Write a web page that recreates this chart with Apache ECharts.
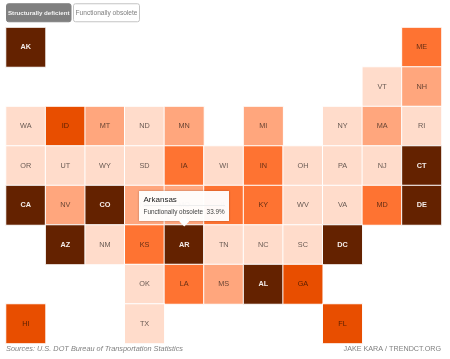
<!DOCTYPE html>
<html>
<head>
<meta charset="utf-8">
<script src="https://cdn.jsdelivr.net/npm/echarts@6/dist/echarts.min.js"></script>
<style>
  html, body { margin: 0; padding: 0; background: #fff; }
  #chart { width: 450px; height: 359px; }
</style>
</head>
<body>
<div id="chart"></div>
<script>
const FONT = '"Liberation Sans", Arial, sans-serif';

// tile map columns and rows
const columns = ['0', '1', '2', '3', '4', '5', '6', '7', '8', '9', '10'];
const rows = ['0', '1', '2', '3', '4', '5', '6', '7'];

// state, column, row
const tiles = [
  ['AK', 0, 0], ['ME', 10, 0],
  ['VT', 9, 1], ['NH', 10, 1],
  ['WA', 0, 2], ['ID', 1, 2], ['MT', 2, 2], ['ND', 3, 2], ['MN', 4, 2], ['MI', 6, 2], ['NY', 8, 2], ['MA', 9, 2], ['RI', 10, 2],
  ['OR', 0, 3], ['UT', 1, 3], ['WY', 2, 3], ['SD', 3, 3], ['IA', 4, 3], ['WI', 5, 3], ['IN', 6, 3], ['OH', 7, 3], ['PA', 8, 3], ['NJ', 9, 3], ['CT', 10, 3],
  ['CA', 0, 4], ['NV', 1, 4], ['CO', 2, 4], ['NE', 3, 4], ['MO', 4, 4], ['IL', 5, 4], ['KY', 6, 4], ['WV', 7, 4], ['VA', 8, 4], ['MD', 9, 4], ['DE', 10, 4],
  ['AZ', 1, 5], ['NM', 2, 5], ['KS', 3, 5], ['AR', 4, 5], ['TN', 5, 5], ['NC', 6, 5], ['SC', 7, 5], ['DC', 8, 5],
  ['OK', 3, 6], ['LA', 4, 6], ['MS', 5, 6], ['AL', 6, 6], ['GA', 7, 6],
  ['HI', 0, 7], ['TX', 3, 7], ['FL', 8, 7]
];

// colour class of each state (0 lightest, 4 darkest)
const levels = {
  AK: 4, ME: 2, VT: 0, NH: 1, WA: 0, ID: 3, MT: 1, ND: 0, MN: 1, MI: 1, NY: 0, MA: 1, RI: 0,
  OR: 0, UT: 0, WY: 0, SD: 0, IA: 2, WI: 0, IN: 2, OH: 0, PA: 0, NJ: 0, CT: 4,
  CA: 4, NV: 1, CO: 4, NE: 1, MO: 1, IL: 2, KY: 2, WV: 0, VA: 0, MD: 2, DE: 4,
  AZ: 4, NM: 0, KS: 2, AR: 4, TN: 0, NC: 0, SC: 0, DC: 4,
  OK: 0, LA: 2, MS: 1, AL: 4, GA: 3, HI: 3, TX: 0, FL: 3
};
const palette = ['#ffdccb', '#ffa67d', '#fe7332', '#e84e00', '#642200'];

const names = { AR: 'Arkansas' };
const tipSeries = 'Functionally obsolete';
const tipValue = '33.9%';

const chart = echarts.init(document.getElementById('chart'), null, { renderer: 'canvas' });

const button = (x, w, label, active) => ({
  type: 'group',
  children: [
    {
      type: 'rect',
      shape: { x: x, y: 3.75, width: w, height: 18, r: 2 },
      style: { fill: active ? '#808080' : '#fff', stroke: active ? '#808080' : '#c4c4c4', lineWidth: 1 }
    },
    {
      type: 'text',
      style: {
        x: x + w / 2, y: 12.8, text: label, align: 'center', verticalAlign: 'middle',
        font: (active ? 'bold 6.2px ' : '6.6px ') + FONT, fill: active ? '#f4f4f4' : '#808080'
      }
    }
  ]
});

chart.setOption({
  animation: false,
  grid: { left: 6, top: 27.5, width: 435.5, height: 316 },
  xAxis: { type: 'category', data: columns, show: false },
  yAxis: { type: 'category', data: rows, inverse: true, show: false },
  visualMap: {
    show: false,
    type: 'piecewise',
    dimension: 2,
    pieces: palette.map((color, i) => ({ value: i, color: color }))
  },
  tooltip: {
    show: true,
    trigger: 'item',
    alwaysShowContent: true,
    triggerOn: 'none',
    transitionDuration: 0,
    padding: 0,
    borderWidth: 0,
    backgroundColor: 'transparent',
    extraCssText: 'box-shadow:none;',
    position: function (pos, params, dom, rect) {
      return [rect.x + rect.width / 2 - 45, rect.y - 33.5];
    },
    formatter: function (p) {
      return '<div style="position:relative;width:90px;height:29.5px;background:rgba(255,255,255,.96);box-shadow:0 0 2px rgba(0,0,0,.3);font-family:' + "'Liberation Sans',Arial,sans-serif" + ';color:#444;">'
        + '<div style="position:absolute;left:4.5px;top:2.5px;font-size:8px;line-height:11px;color:#222;white-space:nowrap;">' + names[p.data.name] + '</div>'
        + '<div style="position:absolute;left:4.5px;right:4.5px;top:13.5px;height:1px;background:#eee;"></div>'
        + '<div style="position:absolute;left:4.5px;top:15.5px;font-size:6.35px;line-height:10px;white-space:nowrap;">' + tipSeries + '&nbsp;&nbsp;' + tipValue + '</div>'
        + '<div style="position:absolute;left:42px;bottom:-3.5px;width:6.5px;height:6.5px;background:#fff;transform:rotate(45deg);"></div>'
        + '</div>';
    }
  },
  series: [{
    type: 'heatmap',
    data: tiles.map(t => ({
      name: t[0],
      value: [t[1], t[2], levels[t[0]]],
      label: levels[t[0]] === 4 ? { color: '#f4ece8', fontWeight: 'bold' } : {}
    })),
    itemStyle: { borderColor: '#fff', borderWidth: 1 },
    emphasis: { disabled: true },
    label: {
      show: true,
      fontFamily: FONT,
      fontSize: 7.3,
      formatter: p => p.data.name,
      color: 'rgba(0,0,0,0.62)'
    }
  }],
  graphic: [
    button(6.5, 64.5, 'Structurally deficient', true),
    button(73.5, 66, 'Functionally obsolete', false),
    {
      type: 'text',
      style: { x: 6, y: 348.7, text: 'Sources: U.S. DOT Bureau of Transportation Statistics', font: 'italic 7.35px ' + FONT, fill: '#808080', verticalAlign: 'middle' }
    },
    {
      type: 'text',
      style: { x: 441, y: 348.7, text: 'JAKE KARA / TRENDCT.ORG', font: '7.2px ' + FONT, fill: '#808080', align: 'right', verticalAlign: 'middle' }
    }
  ]
});

chart.dispatchAction({
  type: 'showTip',
  seriesIndex: 0,
  dataIndex: tiles.findIndex(t => t[0] === 'AR')
});
</script>
</body>
</html>
